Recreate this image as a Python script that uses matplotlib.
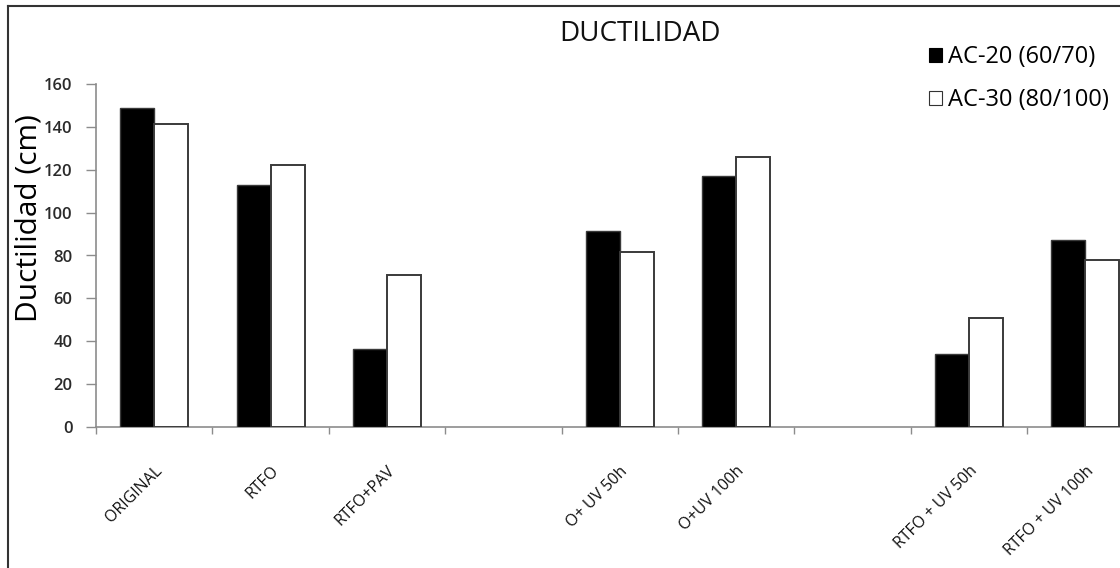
import numpy as np
import matplotlib
matplotlib.use("Agg")
import matplotlib.pyplot as plt
from matplotlib.patches import Patch
from matplotlib.lines import Line2D

# Ductility per aging condition (blank slots separate the groups)
categories = ["ORIGINAL", "RTFO", "RTFO+PAV", "", "O+ UV 50h", "O+UV 100h",
              "", "RTFO + UV 50h", "RTFO + UV 100h"]
ac20 = [149, 113, 36.5, None, 91.5, 117, None, 34, 87]
ac30 = [141.5, 122, 71, None, 81.5, 126, None, 51, 78]
series_names = ["AC-20 (60/70)", "AC-30 (80/100)"]
yticks = [0, 20, 40, 60, 80, 100, 120, 140, 160]

plt.rcParams["font.family"] = ["Open Sans", "DejaVu Sans"]

W, H = 1120, 568
fig = plt.figure(figsize=(W / 100, H / 100), dpi=100)
fig.patch.set_facecolor("white")

left_px, bottom_px, top_px, cat_px = 96, 427, 84, 116.4
n = len(categories)
ax = fig.add_axes([left_px / W, 1 - bottom_px / H,
                   n * cat_px / W, (bottom_px - top_px) / H])

x = np.arange(n) + 0.5
v20 = np.array([np.nan if v is None else v for v in ac20], dtype=float)
v30 = np.array([np.nan if v is None else v for v in ac30], dtype=float)
bw = 0.292
ax.bar(x - bw / 2, v20, width=bw, color="black", edgecolor="#3a3a3a",
       linewidth=1.0, zorder=3)
ax.bar(x + bw / 2, v30, width=bw, color="white", edgecolor="#3a3a3a",
       linewidth=1.4, zorder=3)

ax.set_xlim(0, n)
ax.set_ylim(0, 160)
for s in ["top", "right"]:
    ax.spines[s].set_visible(False)
for s in ["left", "bottom"]:
    ax.spines[s].set_color("#8c8c8c")
    ax.spines[s].set_linewidth(1.2)

ax.set_yticks(yticks)
ax.tick_params(axis="y", direction="out", length=7, width=1.0,
               color="#8c8c8c", labelsize=12, pad=10, labelcolor="#2a2a2a")
for t in ax.get_yticklabels():
    t.set_fontweight("semibold")

ax.set_xticks(np.arange(n + 1), minor=True)
ax.tick_params(axis="x", which="minor", direction="out", length=5,
               width=1.0, color="#8c8c8c")
ax.set_xticks(x)
ax.set_xticklabels(categories, rotation=45, ha="right",
                   rotation_mode="anchor", fontsize=11.5, color="#111111")
ax.tick_params(axis="x", which="major", length=0, pad=26)

ax.set_ylabel("Ductilidad (cm)", fontsize=21.5, color="black")
ax.yaxis.set_label_coords(-52 / (n * cat_px), 0.61)

fig.text(640 / W, 1 - 34 / H, "DUCTILIDAD", ha="center", va="center",
         fontsize=20, color="#111111")

handles = [Patch(facecolor="black", edgecolor="black", linewidth=0.8),
           Patch(facecolor="white", edgecolor="#333333", linewidth=0.8)]
fig.legend(handles, series_names, loc="upper left",
           bbox_to_anchor=(920 / W, 1 - 36 / H), frameon=False,
           fontsize=17, handlelength=0.55, handleheight=0.55,
           handletextpad=0.25, labelspacing=0.8, borderaxespad=0)

# outer chart frame
fig.add_artist(Line2D([8 / W, 8 / W], [0, 1 - 6 / H], color="#333333",
                      linewidth=1.5, transform=fig.transFigure))
fig.add_artist(Line2D([8 / W, 1], [1 - 6 / H, 1 - 6 / H], color="#333333",
                      linewidth=1.5, transform=fig.transFigure))

fig.savefig("out.png", dpi=100)
